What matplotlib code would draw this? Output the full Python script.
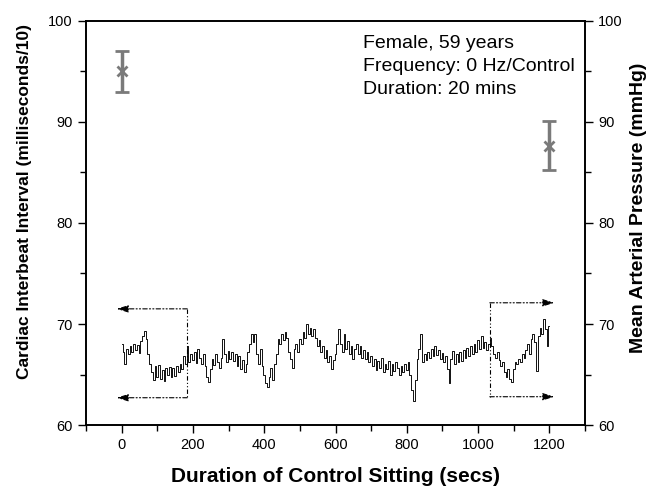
"""Cardiac interbeat interval during a 20 minute control sitting."""

import matplotlib
matplotlib.use("Agg")
import matplotlib.pyplot as plt
from matplotlib.ticker import MultipleLocator
import numpy as np

plt.rcParams["font.family"] = ["Liberation Sans", "DejaVu Sans"]

# Interbeat interval trace, read every 5 s from 0 to 1200 s
time_secs = np.arange(0, 1205, 5)
interbeat = [
    68.0, 67.2, 66.0, 67.5, 67.0, 67.8, 67.2, 68.0, 67.4, 67.9,
    67.1, 68.3, 68.8, 69.3, 68.5, 67.0, 66.0, 65.2, 64.5, 65.8,
    64.8, 65.9, 64.6, 65.4, 64.4, 65.6, 65.0, 65.7, 64.8, 65.6,
    64.9, 65.8, 65.2, 66.0, 65.5, 66.8, 66.0, 67.8, 66.2, 67.0,
    66.4, 67.2, 66.1, 67.5, 66.6, 66.0, 67.0, 65.8, 64.8, 64.3,
    65.5, 66.5, 65.9, 67.0, 66.2, 65.6, 66.6, 68.5, 67.0, 66.2,
    67.3, 66.5, 67.2, 66.3, 67.0, 65.8, 66.8, 65.5, 66.4, 65.2,
    66.0, 67.2, 68.0, 69.0, 68.2, 69.0, 67.0, 66.0, 67.5, 65.8,
    65.0, 64.2, 63.8, 64.8, 65.6, 64.5, 66.0, 67.0, 68.5, 68.0,
    69.0, 68.4, 69.2, 68.6, 67.2, 66.5, 65.6, 67.5, 68.0, 67.2,
    68.5, 68.0, 69.2, 68.6, 70.0, 69.0, 69.6, 68.8, 69.5, 68.6,
    67.8, 68.4, 67.2, 67.8, 66.6, 67.4, 66.2, 66.8, 65.5, 66.4,
    67.0, 68.0, 69.5, 68.0, 67.2, 69.0, 67.5, 68.3, 67.0, 67.8,
    66.5, 67.5, 68.0, 67.0, 67.8, 66.6, 67.4, 66.5, 67.2, 66.2,
    66.8, 65.8, 66.5, 65.4, 66.3, 65.6, 66.6, 65.2, 66.0, 65.5,
    66.3, 65.0, 66.0, 65.3, 66.2, 65.6, 65.0, 65.8, 65.2, 66.0,
    65.4, 66.2, 65.0, 63.5, 62.4, 64.5, 66.5, 67.5, 69.0, 66.2,
    67.0, 66.4, 67.2, 66.6, 67.5, 66.8, 67.8, 66.9, 67.4, 66.5,
    67.1, 66.2, 66.8, 65.5, 64.2, 66.5, 67.3, 66.0, 67.0, 66.2,
    67.2, 66.3, 67.4, 66.6, 67.6, 66.8, 67.8, 67.0, 68.0, 67.2,
    68.4, 67.5, 68.8, 67.6, 68.2, 67.4, 68.0, 68.6, 67.8, 67.0,
    66.6, 67.2, 66.4, 65.8, 66.2, 65.2, 64.8, 65.5, 64.6, 64.3,
    65.5, 66.2, 66.0, 66.5, 66.2, 67.0, 66.6, 67.4, 68.0, 67.0,
    68.5, 69.0, 68.2, 65.3, 68.8, 69.6, 69.0, 70.5, 69.5, 67.8,
    69.8,
]

# Mean arterial pressure at start and end of the session
map_time = [0, 1200]
map_mean = [95.0, 87.6]
map_err_low = [2.0, 2.4]
map_err_high = [2.0, 2.5]

# Dash-dot brackets pointing each trace section to its axis
left_bracket_x = 184
left_bracket_y = [71.5, 62.7]
right_bracket_x = 1033
right_bracket_y = [72.1, 62.8]

fig = plt.figure(figsize=(6.54, 4.87), dpi=100)
ax = fig.add_axes([0.1315, 0.1273, 0.763, 0.8296])
ax2 = ax.twinx()

ax.plot(time_secs, interbeat, color="black", linewidth=0.65, drawstyle="steps-mid")

ax.errorbar(map_time, map_mean, yerr=[map_err_low, map_err_high], fmt="x",
            color="#7a7a7a", ecolor="#7a7a7a", elinewidth=2.5, capsize=5,
            capthick=2.5, markersize=7, markeredgewidth=2)

dashdotdot = (0, (4, 2, 1, 2, 1, 2))
bracket_style = dict(color="black", linewidth=0.8, linestyle=dashdotdot)
arrow_props = dict(arrowstyle="-|>,head_length=0.7,head_width=0.22", color="black",
                   linewidth=0.8, linestyle=dashdotdot, shrinkA=0, shrinkB=0)

ax.plot([left_bracket_x, left_bracket_x], left_bracket_y, **bracket_style)
for yv in left_bracket_y:
    ax.annotate("", xy=(-14, yv), xytext=(left_bracket_x, yv), arrowprops=arrow_props)

ax.plot([right_bracket_x, right_bracket_x], right_bracket_y, **bracket_style)
for yv in right_bracket_y:
    ax.annotate("", xy=(1214, yv), xytext=(right_bracket_x, yv), arrowprops=arrow_props)

ax.text(0.555, 0.965, "Female, 59 years\nFrequency: 0 Hz/Control\nDuration: 20 mins",
        transform=ax.transAxes, ha="left", va="top", fontsize=14, linespacing=1.45)

for a in (ax, ax2):
    a.set_xlim(-100, 1300)
    a.set_ylim(60, 100)
    a.yaxis.set_major_locator(MultipleLocator(10))
    a.yaxis.set_minor_locator(MultipleLocator(5))
    a.tick_params(axis="both", which="major", direction="out", length=6, width=1,
                  labelsize=10.5)
    a.tick_params(axis="both", which="minor", direction="out", length=4, width=1)
    for spine in a.spines.values():
        spine.set_linewidth(1.2)

ax.xaxis.set_major_locator(MultipleLocator(200))
ax.xaxis.set_minor_locator(MultipleLocator(100))
ax.tick_params(axis="x", which="both", top=False)

ax.set_xlabel("Duration of Control Sitting (secs)", fontsize=15, fontweight="bold",
              labelpad=11)
ax.set_ylabel("Cardiac Interbeat Interval (milliseconds/10)", fontsize=12.5,
              fontweight="bold")
ax.yaxis.set_label_coords(-0.108, 0.554)
ax2.set_ylabel("Mean Arterial Pressure (mmHg)", fontsize=14, fontweight="bold")
ax2.yaxis.set_label_coords(1.09, 0.537)

fig.savefig("out.png", dpi=100)
